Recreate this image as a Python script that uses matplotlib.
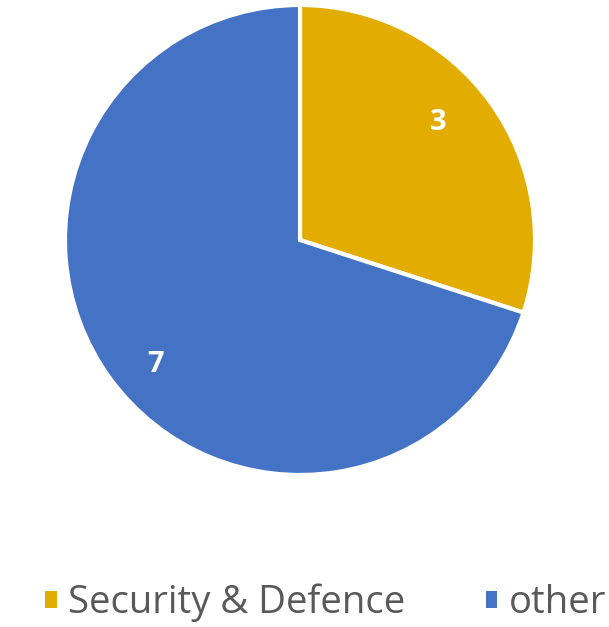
import matplotlib
matplotlib.use("Agg")
import matplotlib.pyplot as plt
from matplotlib.patches import Patch

categories = ["Security & Defence", "other"]
values = [3, 7]
colors = ["#E2AC00", "#4472C4"]

W, H = 609, 627
fig = plt.figure(figsize=(W/100, H/100), dpi=100)
cx, cy, r = 300, 240, 235
ax = fig.add_axes([(cx - r)/W, (H - cy - r)/H, 2*r/W, 2*r/H])

wedges, texts, autotexts = ax.pie(
    values, colors=colors, startangle=90, counterclock=False,
    autopct=lambda p: f"{p*sum(values)/100:.0f}", pctdistance=0.78,
    wedgeprops=dict(edgecolor="white", linewidth=3),
    textprops=dict(color="white", fontsize=21, fontweight="bold", family="Open Sans"))
label_pos = [(0.59, 0.50), (-0.615, -0.53)]
for t, p in zip(autotexts, label_pos):
    t.set_position(p)
ax.set_aspect("equal")
ax.set_xlim(-1, 1); ax.set_ylim(-1, 1)
ax.axis("off")

handles = [Patch(facecolor=c, edgecolor="none") for c in colors]
fig.legend(handles, categories, loc="center", bbox_to_anchor=(0.535, 1 - 603/H),
           ncol=2, frameon=False, handlelength=0.3, handleheight=0.3,
           handletextpad=0.3, columnspacing=2.1,
           prop=dict(family="Open Sans", size=27.5), labelcolor="#595959")

fig.savefig("out.png", dpi=100)
